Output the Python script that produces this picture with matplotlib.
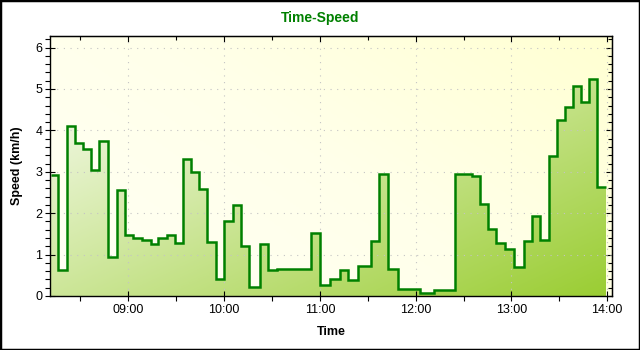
import matplotlib

matplotlib.use("Agg")
import matplotlib.dates as mdates
import matplotlib.pyplot as plt
import numpy as np
import pandas as pd
from matplotlib.colors import LinearSegmentedColormap
from matplotlib.patches import Rectangle
from matplotlib.ticker import MultipleLocator

# step edges (time of each change) and the speed held until the next edge
edge_times = [
    "08:11:28", "08:16:12", "08:21:42", "08:26:42", "08:31:30", "08:36:42",
    "08:41:42", "08:47:18", "08:52:48", "08:58:00", "09:03:12", "09:08:30",
    "09:14:06", "09:18:42", "09:24:06", "09:29:06", "09:34:18", "09:39:18",
    "09:44:18", "09:49:30", "09:54:48", "09:59:42", "10:05:24", "10:10:36",
    "10:15:48", "10:22:24", "10:27:42", "10:33:00", "10:54:30", "11:00:06",
    "11:06:24", "11:12:30", "11:17:42", "11:23:54", "11:32:06", "11:37:06",
    "11:42:30", "11:49:12", "12:02:36", "12:11:30", "12:24:54", "12:35:06",
    "12:40:18", "12:45:18", "12:50:30", "12:56:12", "13:01:36", "13:08:06",
    "13:12:54", "13:18:06", "13:23:30", "13:28:36", "13:33:36", "13:38:36",
    "13:43:36", "13:48:36", "13:53:24", "13:59:24",
]
speed = [
    2.92, 0.62, 4.11, 3.70, 3.56, 3.04, 3.74, 0.95, 2.56, 1.47,
    1.41, 1.35, 1.26, 1.40, 1.47, 1.29, 3.31, 3.00, 2.58, 1.31,
    0.40, 1.81, 2.21, 1.21, 0.22, 1.26, 0.64, 0.66, 1.53, 0.27,
    0.42, 0.64, 0.39, 0.73, 1.34, 2.95, 0.66, 0.18, 0.07, 0.15,
    2.95, 2.91, 2.23, 1.63, 1.29, 1.14, 0.70, 1.33, 1.94, 1.36,
    3.38, 4.24, 4.57, 5.07, 4.69, 5.24, 2.64,
]
x_range = ["08:11:05", "14:02:40"]
y_max = 6.28

DAY = "2020-01-01 "
edges = mdates.date2num(pd.to_datetime([DAY + t for t in edge_times]))
xlo, xhi = mdates.date2num(pd.to_datetime([DAY + t for t in x_range]))

plt.rcParams["font.family"] = ["Liberation Sans", "DejaVu Sans"]

fig = plt.figure(figsize=(6.4, 3.5), dpi=100)
fig.patch.set_facecolor("white")
ax = fig.add_axes([50.2 / 640, 54 / 350, 561.3 / 640, 260 / 350])

# background: pale yellow gradient
yy, xx = np.mgrid[0:1:200j, 0:1:200j]
bg_cmap = LinearSegmentedColormap.from_list("bg", ["#FFFFF4", "#FFFFEA", "#FFFFD2"])
ax.imshow(0.6 * xx + 0.4 * yy, cmap=bg_cmap, origin="lower", extent=(0, 1, 0, 1),
          transform=ax.transAxes, aspect="auto", zorder=0, vmin=0, vmax=1)

# area under the curve: diagonal gradient clipped to the step shape
area = ax.stairs(speed, edges, baseline=0, fill=True, facecolor="none",
                 edgecolor="none", zorder=1)
fill_cmap = LinearSegmentedColormap.from_list("fill", ["#FFFFFF", "#9ACD32"])
im = ax.imshow((xx + (1 - yy)) / 2, cmap=fill_cmap, origin="lower", extent=(0, 1, 0, 1),
               transform=ax.transAxes, aspect="auto", zorder=1, vmin=0, vmax=1)
im.set_clip_path(area)

ax.stairs(speed, edges, baseline=None, color="#008000", linewidth=1.8, zorder=3)

ax.set_xlim(xlo, xhi)
ax.set_ylim(0, y_max)

ax.xaxis.set_major_locator(mdates.HourLocator())
ax.xaxis.set_minor_locator(mdates.MinuteLocator(byminute=30))
ax.xaxis.set_major_formatter(mdates.DateFormatter("%H:%M"))
ax.set_yticks(range(0, 7))
ax.yaxis.set_minor_locator(MultipleLocator(0.2))

ax.grid(True, which="major", color="#C4C4C4", linestyle=(0, (1, 5)), linewidth=0.8)
for line in ax.get_xgridlines() + ax.get_ygridlines():
    line.set_zorder(2)

ax.tick_params(which="major", direction="inout", length=7, width=0.8,
               labelsize=9, pad=2, colors="black")
ax.tick_params(which="minor", direction="out", length=3.5, width=0.8)
for s in ax.spines.values():
    s.set_linewidth(1)
    s.set_zorder(4)

# inward ticks on top and right
top = ax.secondary_xaxis("top")
top.xaxis.set_major_locator(mdates.HourLocator())
top.xaxis.set_minor_locator(mdates.MinuteLocator(byminute=30))
top.tick_params(which="both", direction="in", labeltop=False, width=0.8)
top.tick_params(which="major", length=4)
top.tick_params(which="minor", length=3)
right = ax.secondary_yaxis("right")
right.set_yticks(range(0, 7))
right.yaxis.set_minor_locator(MultipleLocator(0.2))
right.tick_params(which="both", direction="in", labelright=False, width=0.8)
right.tick_params(which="major", length=4)
right.tick_params(which="minor", length=3)

fig.text(0.5, 1 - 18 / 350, "Time-Speed", ha="center", va="center",
         fontsize=10, fontweight="bold", color="#008000")
fig.text(17 / 640, 1 - 166 / 350, "Speed (km/h)", ha="center", va="center",
         rotation=90, fontsize=9, fontweight="bold")
fig.text(331 / 640, 1 - 332 / 350, "Time", ha="center", va="center",
         fontsize=9, fontweight="bold")

fig.patches.append(Rectangle((0, 0), 1, 1, transform=fig.transFigure, fill=False,
                             edgecolor="black", linewidth=2.5))

fig.savefig("out.png", dpi=100)
